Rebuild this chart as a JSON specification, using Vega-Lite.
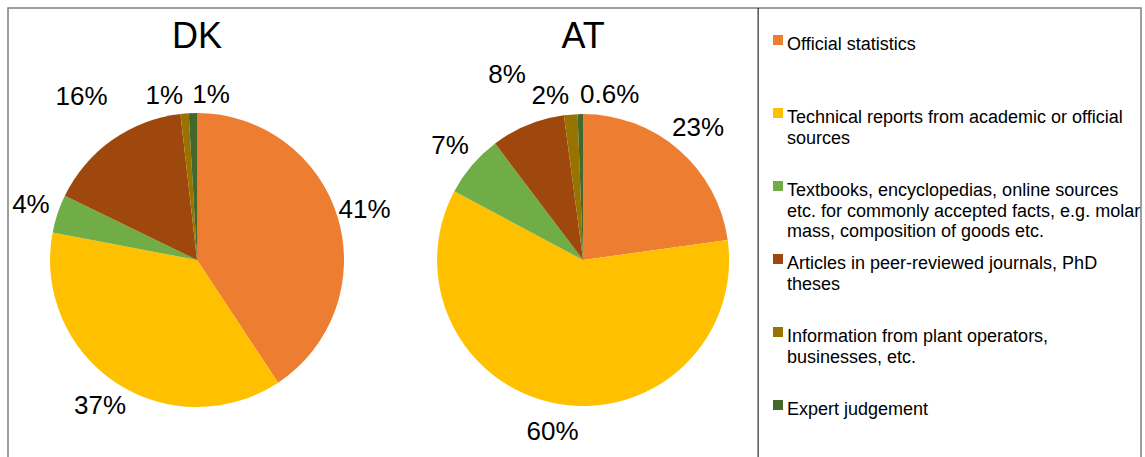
{
  "$schema": "https://vega.github.io/schema/vega-lite/v6.json",
  "width": 1133,
  "height": 449,
  "autosize": {"type": "none"},
  "padding": {"left": 8, "top": 8, "right": 4, "bottom": 0},
  "background": "white",
  "config": {
    "view": {"stroke": "#7f7f7f", "strokeWidth": 1.5, "strokeDash": [1582, 1133, 449]},
    "font": "Liberation Sans",
    "text": {"font": "Liberation Sans"}
  },
  "data": {
    "values": [
      {"country": "DK", "category": "Official statistics", "value": 40.7, "label": "41%", "rank": 1},
      {"country": "DK", "category": "Technical reports from academic or official sources", "value": 37.3, "label": "37%", "rank": 2},
      {"country": "DK", "category": "Textbooks, encyclopedias, online sources etc. for commonly accepted facts, e.g. molar mass, composition of goods etc.", "value": 4.2, "label": "4%", "rank": 3},
      {"country": "DK", "category": "Articles in peer-reviewed journals, PhD theses", "value": 16.0, "label": "16%", "rank": 4},
      {"country": "DK", "category": "Information from plant operators, businesses, etc.", "value": 0.9, "label": "1%", "rank": 5},
      {"country": "DK", "category": "Expert judgement", "value": 0.9, "label": "1%", "rank": 6},
      {"country": "AT", "category": "Official statistics", "value": 22.8, "label": "23%", "rank": 1},
      {"country": "AT", "category": "Technical reports from academic or official sources", "value": 60.0, "label": "60%", "rank": 2},
      {"country": "AT", "category": "Textbooks, encyclopedias, online sources etc. for commonly accepted facts, e.g. molar mass, composition of goods etc.", "value": 6.9, "label": "7%", "rank": 3},
      {"country": "AT", "category": "Articles in peer-reviewed journals, PhD theses", "value": 8.2, "label": "8%", "rank": 4},
      {"country": "AT", "category": "Information from plant operators, businesses, etc.", "value": 1.5, "label": "2%", "rank": 5},
      {"country": "AT", "category": "Expert judgement", "value": 0.6, "label": "0.6%", "rank": 6}
    ]
  },
  "resolve": {"scale": {"theta": "independent"}},
  "layer": [
    {
      "data": {"values": [{"divider": "AT"}]},
      "mark": {"type": "rule", "color": "#000", "strokeWidth": 1},
      "encoding": {
        "x": {"field": "divider", "type": "nominal", "bandPosition": 1,
              "scale": {"type": "band", "domain": ["DK", "AT"], "paddingInner": 0.0933, "paddingOuter": 0.514, "align": 0.0353}, "axis": null}
      }
    },
    {
      "transform": [{"aggregate": [{"op": "count", "as": "n"}], "groupby": ["country"]}],
      "mark": {"type": "text", "fontSize": 36, "font": "Liberation Sans", "align": "center", "baseline": "alphabetic", "color": "#000"},
      "encoding": {
        "x": {"field": "country", "type": "nominal", "bandPosition": 0.5,
              "scale": {"type": "band", "domain": ["DK", "AT"], "paddingInner": 0.0933, "paddingOuter": 0.514, "align": 0.0353}, "axis": null},
        "y": {"datum": "title", "type": "nominal", "scale": {"type": "point", "domain": ["title", "pie"], "padding": 0.559, "align": 0.169}, "axis": null},
        "text": {"field": "country", "type": "nominal"}
      }
    },
    {
      "transform": [{"filter": "datum.country === 'DK'"}],
      "encoding": {
        "x": {"field": "country", "type": "nominal", "bandPosition": 0.5,
              "scale": {"type": "band", "domain": ["DK", "AT"], "paddingInner": 0.0933, "paddingOuter": 0.514, "align": 0.0353}, "axis": null},
        "y": {"datum": "pie", "type": "nominal", "scale": {"type": "point", "domain": ["title", "pie"], "padding": 0.559, "align": 0.169}, "axis": null},
        "theta": {"field": "value", "type": "quantitative", "stack": true},
        "order": {"field": "rank", "type": "quantitative"}
      },
      "layer": [
        {
          "mark": {"type": "arc", "outerRadius": 147},
          "encoding": {
            "color": {
              "field": "category", "type": "nominal",
              "scale": {
                "domain": ["Official statistics", "Technical reports from academic or official sources", "Textbooks, encyclopedias, online sources etc. for commonly accepted facts, e.g. molar mass, composition of goods etc.", "Articles in peer-reviewed journals, PhD theses", "Information from plant operators, businesses, etc.", "Expert judgement"],
                "range": ["#ED7D31", "#FFC000", "#70AD47", "#9E480E", "#997300", "#43682B"]
              },
              "legend": {
                "orient": "none", "legendX": 761, "legendY": 23, "padding": 0, "title": null,
                "symbolType": "square", "symbolSize": 100, "symbolStrokeWidth": 0,
                "labelFont": "Liberation Sans", "labelFontSize": 18, "labelColor": "#000", "labelLimit": 400,
                "labelOffset": 0, "labelBaseline": "top", "rowPadding": 9, "gridAlign": "all",
                "labelExpr": "datum.label == 'Technical reports from academic or official sources' ? ['Technical reports from academic or official', 'sources'] : datum.label == 'Textbooks, encyclopedias, online sources etc. for commonly accepted facts, e.g. molar mass, composition of goods etc.' ? ['Textbooks, encyclopedias, online sources', 'etc. for commonly accepted facts, e.g. molar', 'mass, composition of goods etc.'] : datum.label == 'Articles in peer-reviewed journals, PhD theses' ? ['Articles in peer-reviewed journals, PhD', 'theses'] : datum.label == 'Information from plant operators, businesses, etc.' ? ['Information from plant operators,', 'businesses, etc.'] : datum.label",
                "encoding": {"labels": {"lineHeight": {"value": 20.5}, "dy": {"value": -4}}}
              }
            }
          }
        },
        {
          "mark": {"type": "text", "radius": 175, "fontSize": 26, "font": "Liberation Sans", "align": "center", "baseline": "middle"},
          "encoding": {
            "color": {"value": "#000"},
            "detail": {"field": "category", "type": "nominal"},
            "text": {"condition": {"test": "indexof(['Official statistics', 'Technical reports from academic or official sources', 'Textbooks, encyclopedias, online sources etc. for commonly accepted facts, e.g. molar mass, composition of goods etc.'], datum.category) >= 0", "field": "label", "type": "nominal"}, "value": ""}
          }
        },
        {
          "mark": {"type": "text", "radius": 200, "fontSize": 26, "font": "Liberation Sans", "align": "center", "baseline": "middle"},
          "encoding": {
            "color": {"value": "#000"},
            "detail": {"field": "category", "type": "nominal"},
            "text": {"condition": {"test": "datum.category === 'Articles in peer-reviewed journals, PhD theses'", "field": "label", "type": "nominal"}, "value": ""}
          }
        },
        {
          "mark": {"type": "text", "radius": 165, "fontSize": 26, "font": "Liberation Sans", "align": "right", "baseline": "middle"},
          "encoding": {
            "color": {"value": "#000"},
            "detail": {"field": "category", "type": "nominal"},
            "text": {"condition": {"test": "datum.category === 'Information from plant operators, businesses, etc.'", "field": "label", "type": "nominal"}, "value": ""}
          }
        },
        {
          "mark": {"type": "text", "radius": 165, "fontSize": 26, "font": "Liberation Sans", "align": "left", "baseline": "middle"},
          "encoding": {
            "color": {"value": "#000"},
            "detail": {"field": "category", "type": "nominal"},
            "text": {"condition": {"test": "datum.category === 'Expert judgement'", "field": "label", "type": "nominal"}, "value": ""}
          }
        }
      ]
    },
    {
      "transform": [{"filter": "datum.country === 'AT'"}],
      "encoding": {
        "x": {"field": "country", "type": "nominal", "bandPosition": 0.5,
              "scale": {"type": "band", "domain": ["DK", "AT"], "paddingInner": 0.0933, "paddingOuter": 0.514, "align": 0.0353}, "axis": null},
        "y": {"datum": "pie", "type": "nominal", "scale": {"type": "point", "domain": ["title", "pie"], "padding": 0.559, "align": 0.169}, "axis": null},
        "theta": {"field": "value", "type": "quantitative", "stack": true},
        "order": {"field": "rank", "type": "quantitative"}
      },
      "layer": [
        {
          "mark": {"type": "arc", "outerRadius": 146},
          "encoding": {
            "color": {"field": "category", "type": "nominal", "legend": null}
          }
        },
        {
          "mark": {"type": "text", "radius": 175, "fontSize": 26, "font": "Liberation Sans", "align": "center", "baseline": "middle"},
          "encoding": {
            "color": {"value": "#000"},
            "detail": {"field": "category", "type": "nominal"},
            "text": {"condition": {"test": "indexof(['Official statistics', 'Technical reports from academic or official sources', 'Textbooks, encyclopedias, online sources etc. for commonly accepted facts, e.g. molar mass, composition of goods etc.'], datum.category) >= 0", "field": "label", "type": "nominal"}, "value": ""}
          }
        },
        {
          "mark": {"type": "text", "radius": 200, "fontSize": 26, "font": "Liberation Sans", "align": "center", "baseline": "middle"},
          "encoding": {
            "color": {"value": "#000"},
            "detail": {"field": "category", "type": "nominal"},
            "text": {"condition": {"test": "datum.category === 'Articles in peer-reviewed journals, PhD theses'", "field": "label", "type": "nominal"}, "value": ""}
          }
        },
        {
          "mark": {"type": "text", "radius": 165, "fontSize": 26, "font": "Liberation Sans", "align": "right", "baseline": "middle"},
          "encoding": {
            "color": {"value": "#000"},
            "detail": {"field": "category", "type": "nominal"},
            "text": {"condition": {"test": "datum.category === 'Information from plant operators, businesses, etc.'", "field": "label", "type": "nominal"}, "value": ""}
          }
        },
        {
          "mark": {"type": "text", "radius": 165, "fontSize": 26, "font": "Liberation Sans", "align": "left", "baseline": "middle"},
          "encoding": {
            "color": {"value": "#000"},
            "detail": {"field": "category", "type": "nominal"},
            "text": {"condition": {"test": "datum.category === 'Expert judgement'", "field": "label", "type": "nominal"}, "value": ""}
          }
        }
      ]
    }
  ]
}
